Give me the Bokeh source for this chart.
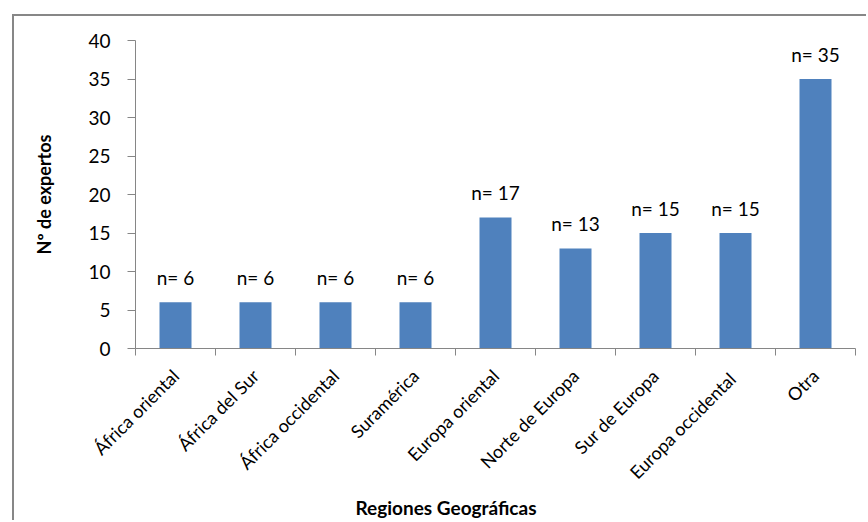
import math
from bokeh.plotting import figure
from bokeh.models import FixedTicker, LinearAxis, Range1d, ColumnDataSource, Title
from bokeh.embed import file_html
from bokeh.resources import INLINE
from bokeh.core.properties import value

categories = ["África oriental", "África del Sur", "África occidental", "Suramérica",
              "Europa oriental", "Norte de Europa", "Sur de Europa", "Europa  occidental", "Otra"]
counts = [6, 6, 6, 6, 17, 13, 15, 15, 35]
y_ticks = [0, 5, 10, 15, 20, 25, 30, 35, 40]
y_max = 40
x_title = "Regiones Geográficas"
y_title = "Nº de expertos"

n = len(categories)
centers = [i + 0.5 for i in range(n)]
boundaries = list(range(n + 1))
labels = [f"n= {c}" for c in counts]

FONT = "Lato"
GRAY = "#868686"

p = figure(width=854, height=506, x_range=Range1d(0, n), y_range=Range1d(0, y_max),
           output_backend="svg", toolbar_location=None,
           x_axis_location=None, y_axis_location=None,
           min_border_left=121, min_border_right=13, min_border_top=24, min_border_bottom=174,
           styles={"margin-left": "12px", "margin-top": "14px",
                   "border-left": "2px solid #878787", "border-top": "2px solid #878787"})
p.grid.visible = False
p.outline_line_color = None

src = ColumnDataSource(dict(x=centers, top=counts, label=labels))
p.vbar(x="x", top="top", width=0.4, source=src, fill_color="#4F81BD", line_color=None)
p.text(x="x", y="top", text="label", source=src, text_align="center", text_baseline="alphabetic",
       y_offset=-25, text_font=value(FONT), text_font_size="19px", text_color="black")

# y axis
yaxis = LinearAxis(ticker=FixedTicker(ticks=y_ticks), axis_label=y_title)
yaxis.axis_line_color = GRAY
yaxis.major_tick_line_color = GRAY
yaxis.major_tick_out = 8
yaxis.major_tick_in = 0
yaxis.minor_tick_line_color = None
yaxis.major_label_standoff = 17
yaxis.major_label_text_font = FONT
yaxis.major_label_text_font_size = "19px"
yaxis.major_label_text_color = "black"
yaxis.axis_label_standoff = 30
yaxis.axis_label_text_font = FONT
yaxis.axis_label_text_font_size = "18px"
yaxis.axis_label_text_font_style = "bold"
yaxis.axis_label_text_color = "black"
p.add_layout(yaxis, "left")

# x axis: labels at categories, tick marks at category boundaries
xl = LinearAxis(ticker=FixedTicker(ticks=centers, minor_ticks=boundaries),
                major_label_overrides={c: name for c, name in zip(centers, categories)})
xl.axis_line_color = GRAY
xl.major_tick_line_color = None
xl.major_tick_out = 0
xl.major_tick_in = 0
xl.minor_tick_line_color = GRAY
xl.minor_tick_out = 7
xl.minor_tick_in = 0
xl.major_label_orientation = math.pi / 4
xl.major_label_standoff = 17
xl.major_label_text_font = FONT
xl.major_label_text_font_size = "18px"
xl.major_label_text_color = "black"
p.add_layout(xl, "below")

p.add_layout(Title(text=x_title, align="left", offset=220,
                   text_font=FONT, text_font_size="19px", text_font_style="bold",
                   text_color="black", standoff=0), "below")

open("out.html", "w").write(file_html(p, INLINE))
